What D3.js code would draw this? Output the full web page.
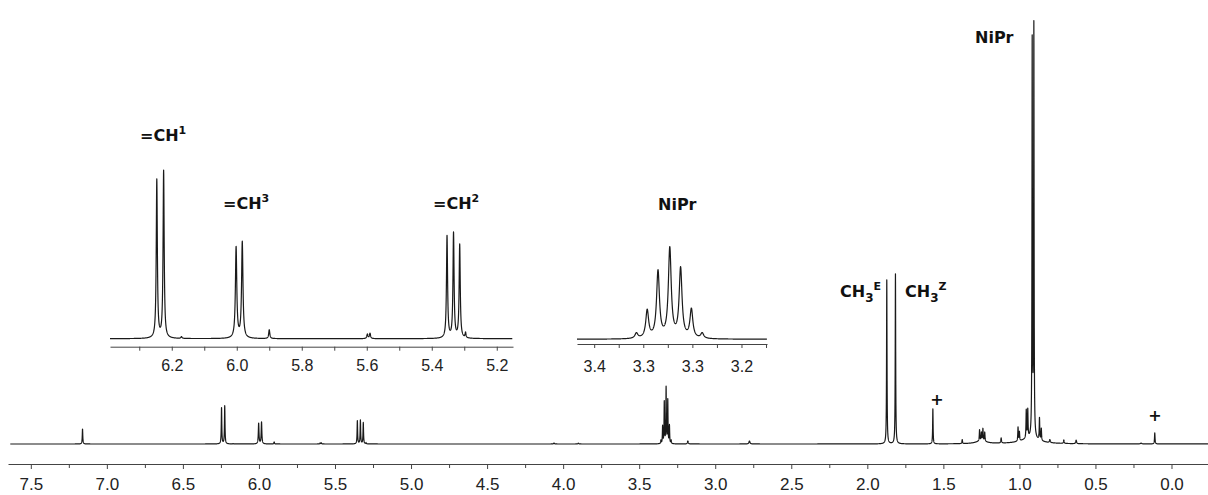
<!DOCTYPE html>
<html>
<head>
<meta charset="utf-8">
<script src="https://cdn.jsdelivr.net/npm/d3@7/dist/d3.min.js"></script>
<style>
  body { margin: 0; background: #fff; }
  svg { display: block; }
  .tick text { font-family: "Liberation Sans", Arial, sans-serif; fill: #222; }
  .lbl { font-family: "DejaVu Sans", Verdana, sans-serif; font-weight: bold; fill: #111; }
</style>
</head>
<body>
<script>
// 1H NMR peak list: shift (ppm), height (px of main plot), line width (ppm)
var peakShifts = [7.16, 6.246, 6.225, 6.17, 6.002, 5.983, 5.900, 5.598, 5.590,
  5.353, 5.333, 5.314, 5.296, 4.06, 3.90,
  3.357, 3.346, 3.335, 3.323, 3.312, 3.301, 3.290,
  3.18, 2.775, 1.872, 1.815, 1.569, 1.376, 1.262, 1.250, 1.240, 1.228,
  1.12, 1.009, 1.000, 0.955, 0.945, 0.916, 0.905, 0.868, 0.856,
  0.80, 0.708, 0.627, 0.20, 0.11];
var peakHeights = [15, 36, 38, 0.4, 20.6, 21.8, 2.0, 1.0, 1.2,
  23.2, 23.8, 21.2, 1.2, 1.0, 0.8,
  3.3, 17.3, 41.6, 55.8, 43.3, 17.9, 3.3,
  3, 3, 164, 170, 35, 4, 11, 8, 12, 9,
  5, 14, 9, 28, 28, 395, 410, 22, 12,
  3, 3.5, 3.5, 0.8, 11];
var peakWidths = [0.004, 0.004, 0.004, 0.004, 0.005, 0.005, 0.004, 0.004, 0.004,
  0.004, 0.004, 0.004, 0.003, 0.006, 0.006,
  0.0035, 0.0035, 0.0035, 0.0035, 0.0035, 0.0035, 0.0035,
  0.006, 0.008, 0.0035, 0.0035, 0.0035, 0.004, 0.004, 0.004, 0.004, 0.004,
  0.005, 0.004, 0.004, 0.004, 0.004, 0.0033, 0.0033, 0.004, 0.004,
  0.006, 0.005, 0.006, 0.01, 0.004];
// broad humps under the aliphatic region
var humpShifts = [1.25, 0.93];
var humpHeights = [3, 5];
var humpWidths = [0.08, 0.15];

var mainTicks = [7.5, 7.0, 6.5, 6.0, 5.5, 5.0, 4.5, 4.0, 3.5, 3.0, 2.5, 2.0, 1.5, 1.0, 0.5, 0.0];
var mainMinor = [7.25, 6.75, 6.25, 5.75, 5.25, 4.75, 4.25, 3.75, 3.25, 2.75, 2.25, 1.75, 1.25, 0.75, 0.25, -0.25];
var inset1Ticks = [6.3, 6.2, 6.1, 6.0, 5.9, 5.8, 5.7, 5.6, 5.5, 5.4, 5.3, 5.2];
var inset1Labels = {"6.2": "6.2", "6.0": "6.0", "5.8": "5.8", "5.6": "5.6", "5.4": "5.4", "5.2": "5.2"};
var inset2Ticks = [3.4, 3.375, 3.35, 3.325, 3.3, 3.275, 3.25, 3.225];
var inset2Labels = {"3.400": "3.4", "3.350": "3.3", "3.300": "3.3", "3.250": "3.2"};

var W = 1208, H = 495;
var svg = d3.select('body').append('svg').attr('width', W).attr('height', H);

function intensity(d) {
  var s = 0;
  for (var i = 0; i < peakShifts.length; ++i) {
    var u = 2 * (d - peakShifts[i]) / peakWidths[i];
    s += peakHeights[i] / (1 + u * u);
  }
  for (var j = 0; j < humpShifts.length; ++j) {
    var v = 2 * (d - humpShifts[j]) / humpWidths[j];
    s += humpHeights[j] / (1 + v * v);
  }
  return s;
}

function spectrum(from, to, step) {
  var pts = [];
  for (var d = from; d >= to; d -= step) pts.push(d);
  peakShifts.forEach(function(p) { if (p <= from && p >= to) pts.push(p); });
  pts.sort(function(a, b) { return b - a; });
  return pts.map(function(d) { return [d, intensity(d)]; });
}

function drawSpectrum(g, x, y, data) {
  g.append('path')
    .attr('d', d3.line().x(function(d) { return x(d[0]); }).y(function(d) { return y(d[1]); })(data))
    .style('fill', 'none')
    .style('stroke', '#1a1a1a')
    .style('stroke-width', 1.2)
    .style('stroke-linejoin', 'round');
}

function styleAxis(g) {
  g.selectAll('path.domain').style('stroke', '#444').style('stroke-width', 1);
  g.selectAll('.tick line').style('stroke', '#444');
}

// main spectrum
var xMain = d3.scaleLinear().domain([7.65, -0.24]).range([8, 1208]);
var yMain = d3.scaleLinear().domain([0, 430]).range([444, 14]);
drawSpectrum(svg.append('g'), xMain, yMain, spectrum(7.635, -0.24, 0.0004));

var axMain = svg.append('g').attr('transform', 'translate(0,464)')
  .call(d3.axisBottom(xMain).tickValues(mainTicks).tickFormat(d3.format('.1f')).tickSize(5).tickSizeOuter(0).tickPadding(9));
axMain.selectAll('.tick text').style('font-size', '17px');
styleAxis(axMain);
var axMinor = svg.append('g').attr('transform', 'translate(0,464)')
  .call(d3.axisBottom(xMain).tickValues(mainMinor.filter(function(t) { return t > -0.24; })).tickFormat('').tickSize(4).tickSizeOuter(0));
axMinor.select('path.domain').remove();
styleAxis(axMinor);

// inset 1: olefinic region
var x1 = d3.scaleLinear().domain([6.39, 5.15]).range([110, 513]);
var y1 = d3.scaleLinear().domain([0, 40]).range([338.7, 338.7 - 176]);
drawSpectrum(svg.append('g'), x1, y1, spectrum(6.39, 5.152, 0.0003));
var ax1 = svg.append('g').attr('transform', 'translate(0,346.7)')
  .call(d3.axisBottom(x1).tickValues(inset1Ticks)
    .tickFormat(function(t) { return inset1Labels[t.toFixed(1)] || ''; })
    .tickSize(4).tickSizeOuter(0).tickPadding(9));
ax1.selectAll('.tick text').style('font-size', '16px');
styleAxis(ax1);

// inset 2: NiPr septet
var x2 = d3.scaleLinear().domain([3.4175, 3.224]).range([577, 767]);
var y2 = d3.scaleLinear().domain([0, 60]).range([339.3, 339.3 - 96]);
drawSpectrum(svg.append('g'), x2, y2, spectrum(3.4175, 3.224, 0.0001));
var ax2 = svg.append('g').attr('transform', 'translate(0,344)')
  .call(d3.axisBottom(x2).tickValues(inset2Ticks)
    .tickFormat(function(t) { return inset2Labels[t.toFixed(3)] || ''; })
    .tickSize(4).tickSizeOuter(0).tickPadding(13));
ax2.selectAll('.tick text').style('font-size', '16px');
styleAxis(ax2);

// peak labels
function label(x, y, parts, size) {
  var t = svg.append('text').attr('class', 'lbl').attr('x', x).attr('y', y).style('font-size', (size || 16) + 'px');
  parts.forEach(function(p) {
    var s = t.append('tspan').text(p[0]);
    if (p[1] === 'sup') s.attr('dy', -7).style('font-size', '11px');
    else if (p[1] === 'sub') s.attr('dy', 5).style('font-size', '12px');
    else if (p[1] === 'supAfterSub') s.attr('dy', -12).style('font-size', '11px');
  });
}
label(140, 141, [['=CH'], ['1', 'sup']]);
label(223, 209, [['=CH'], ['3', 'sup']]);
label(433, 209, [['=CH'], ['2', 'sup']]);
label(658, 210, [['NiPr']]);
label(840, 297, [['CH'], ['3', 'sub'], ['E', 'supAfterSub']]);
label(905, 297, [['CH'], ['3', 'sub'], ['Z', 'supAfterSub']]);
label(975, 43, [['NiPr']]);
svg.append('text').attr('class', 'lbl').attr('x', 937).attr('y', 405).attr('text-anchor', 'middle').style('font-size', '16px').text('+');
svg.append('text').attr('class', 'lbl').attr('x', 1155).attr('y', 421).attr('text-anchor', 'middle').style('font-size', '16px').text('+');
</script>
</body>
</html>
